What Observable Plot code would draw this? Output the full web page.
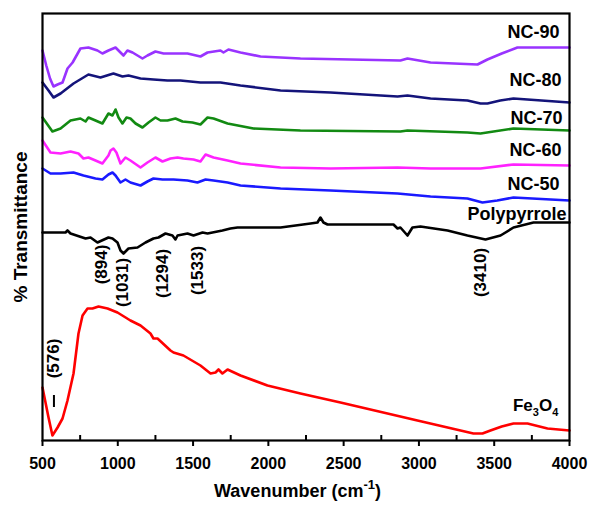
<!DOCTYPE html>
<html><head><meta charset="utf-8">
<script src="https://cdn.jsdelivr.net/npm/d3@7"></script>
<script src="https://cdn.jsdelivr.net/npm/@observablehq/plot@0.6"></script>
<style>body{margin:0;background:#fff} #chart{width:596px;height:505px}</style>
</head><body><div id="chart"></div>
<script>
// x-axis tick labels
const majorTicks = [500, 1000, 1500, 2000, 2500, 3000, 3500, 4000];
const minorTicks = [750, 1250, 1750, 2250, 2750, 3250, 3750];

// [wavenumber (cm-1), transmittance (arbitrary offset units)]
const nc90 = [[500,390],[525,375],[550,362],[573,354],[600,356],[633,358],[666,372],[700,378],[752,392],[805,393],[865,390],[898,387],[938,390],[985,393],[1018,388],[1038,385],[1064,390],[1098,388],[1164,382],[1197,385],[1250,389],[1304,387],[1370,387],[1463,387],[1549,384],[1596,388],[1682,390],[1702,388],[1735,391],[1815,388],[1948,384],[2081,383],[2213,382],[2877,380],[2924,382],[3077,378],[3389,376],[3455,381],[3550,387],[3654,393],[4000,393]];
const nc80 = [[500,358],[540,350],[573,343],[620,347],[706,357],[805,366],[885,363],[971,367],[1031,364],[1071,365],[1151,362],[1237,361],[1330,360],[1416,360],[1549,358],[1682,358],[1815,355],[2081,350],[2413,348],[2858,344],[2924,345],[3077,342],[3322,340],[3409,337],[3455,337],[3540,340],[3628,342],[4000,338]];
const nc70 = [[500,323],[566,309],[620,312],[686,320],[752,322],[786,319],[805,323],[852,320],[898,317],[938,327],[965,325],[985,331],[1005,323],[1031,317],[1058,323],[1084,322],[1118,317],[1164,313],[1204,318],[1250,323],[1284,320],[1330,320],[1383,322],[1430,319],[1496,318],[1549,316],[1596,323],[1636,322],[1729,317],[1901,312],[2213,310],[2877,309],[2924,310],[3322,308],[3409,307],[3628,312],[4000,310]];
const nc60 = [[500,300],[553,288],[620,287],[686,289],[739,287],[772,282],[805,283],[852,280],[898,277],[938,285],[952,290],[971,292],[991,288],[1018,277],[1051,283],[1084,280],[1151,273],[1197,278],[1250,283],[1297,279],[1350,282],[1397,283],[1436,282],[1503,281],[1549,279],[1583,286],[1636,283],[1729,280],[1815,277],[2081,273],[2413,272],[2858,273],[3077,272],[3409,272],[3628,276],[4000,275]];
const nc50 = [[500,272],[553,267],[620,267],[706,268],[772,265],[852,262],[898,261],[938,266],[965,268],[985,265],[1018,258],[1051,261],[1084,258],[1151,255],[1197,259],[1237,262],[1297,261],[1370,261],[1463,260],[1529,258],[1583,261],[1636,260],[1729,258],[1815,255],[2081,252],[2413,250],[2858,247],[3077,244],[3322,242],[3422,238],[3520,240],[3628,243],[4000,240]];
const ppy = [[500,208],[653,208],[666,210],[686,207],[786,202],[819,203],[865,198],[938,203],[965,202],[998,198],[1018,190],[1038,187],[1071,192],[1131,193],[1184,198],[1237,202],[1270,203],[1317,207],[1363,205],[1383,201],[1397,205],[1463,207],[1503,205],[1563,208],[1596,207],[1629,208],[1695,210],[1748,212],[1795,213],[2081,213],[2280,217],[2326,218],[2346,223],[2366,218],[2393,216],[2831,216],[2858,212],[2877,213],[2924,205],[2957,213],[3010,214],[3190,210],[3322,205],[3442,201],[3542,205],[3628,213],[3761,218],[4000,218]];
const fe3o4 = [[500,53],[540,23],[566,5],[600,13],[633,22],[666,40],[706,67],[739,107],[766,125],[799,132],[832,132],[872,134],[932,132],[998,128],[1084,120],[1151,115],[1217,107],[1237,102],[1264,102],[1350,90],[1370,88],[1436,85],[1549,75],[1616,67],[1649,68],[1669,71],[1695,67],[1729,71],[1815,65],[1994,55],[2213,47],[2479,38],[2990,20],[3362,7],[3422,7],[3475,10],[3550,14],[3628,17],[3721,17],[3854,12],[4000,10]];

const seriesNames = ["NC-90","NC-80","NC-70","NC-60","NC-50","Polypyrrole","Fe3O4"];
const seriesColors = ["#9933ff","#14147a","#128a12","#ff22ff","#1a1aff","#000000","#ff0000"];
const seriesData = [nc90, nc80, nc70, nc60, nc50, ppy, fe3o4];
const labelLevels = [408, 360, 322, 290, 256, 226]; // label heights for NC-90 .. Polypyrrole
const labelShift = [-10, -8, -7, -8, -10, -3];

// peak annotations: wavenumber, label, label level
const peakWn = [576, 894, 1031, 1294, 1533, 3410];
const peakText = ["(576)", "(894)", "(1031)", "(1294)", "(1533)", "(3410)"];
const peakLevel = [82, 176, 158, 167, 170, 168];

const rows = seriesData.flatMap((pts, i) => pts.map(([wn, t]) => ({series: seriesNames[i], wn, t})));
const labels = labelLevels.map((t, i) => ({series: seriesNames[i], t, dx: labelShift[i]}));
const peaks = peakWn.map((wn, i) => ({wn, text: peakText[i], t: peakLevel[i]}));

const FONT = "'Liberation Sans', Arial, sans-serif";

const plot = Plot.plot({
  width: 596, height: 505,
  marginLeft: 42, marginRight: 27, marginTop: 13, marginBottom: 65,
  style: {fontFamily: FONT, fontWeight: "bold", fontSize: "16px", color: "#000", background: "#fff"},
  x: {domain: [500, 4000]},
  y: {domain: [0, 427], axis: null},
  color: {domain: seriesNames, range: seriesColors},
  marks: [
    Plot.line(rows, {x: "wn", y: "t", z: "series", stroke: "series", strokeWidth: 2.6, strokeLinejoin: "round"}),
    Plot.ruleX([576], {y1: 33, y2: 45, stroke: "#000", strokeWidth: 2}),
    Plot.text(peaks, {x: "wn", y: "t", text: "text", rotate: -90, fontSize: 17, fontWeight: "bold", fill: "#000"}),
    ...labels.map(l => Plot.text([l], {x: 4000, y: "t", text: "series", textAnchor: "end", dx: l.dx, fontSize: 18, fontWeight: "bold", fill: "#000"})),
    Plot.ruleX(minorTicks, {stroke: "#000", strokeWidth: 2, insetTop: 422}),
    Plot.axisX({ticks: majorTicks, tickSize: 6, tickPadding: 11, tickFormat: d => String(d), label: null, strokeWidth: 2, fontSize: 16, fontWeight: "bold"}),
    Plot.frame({stroke: "#000", strokeWidth: 2.2}),
    Plot.text(["% Transmittance"], {frameAnchor: "left", textAnchor: "middle", rotate: -90, dx: -22, fontSize: 19, fontWeight: "bold", fill: "#000"})
  ]
});

const sx = plot.scale("x"), sy = plot.scale("y");
const fx = sx.apply ? sx.apply : d3.scaleLinear(sx.domain, sx.range);
const fy = sy.apply ? sy.apply : d3.scaleLinear(sy.domain, sy.range);
const svg = d3.select(plot);

// x-axis title with superscript
const xt = svg.append("text")
  .attr("x", (fx(500) + fx(4000)) / 2 - 8).attr("y", 497)
  .attr("text-anchor", "middle")
  .style("font-family", FONT).style("font-weight", "bold").style("font-size", "18px");
xt.append("tspan").text("Wavenumber (cm");
xt.append("tspan").attr("dy", -8).style("font-size", "13px").text("-1");
xt.append("tspan").attr("dy", 8).text(")");

// Fe3O4 label with subscripts
const fe = svg.append("text")
  .attr("x", fx(3628)).attr("y", fy(29))
  .attr("text-anchor", "start")
  .style("font-family", FONT).style("font-weight", "bold").style("font-size", "17px");
fe.append("tspan").text("Fe");
fe.append("tspan").attr("dy", 5).style("font-size", "11px").text("3");
fe.append("tspan").attr("dy", -5).text("O");
fe.append("tspan").attr("dy", 5).style("font-size", "11px").text("4");

document.getElementById("chart").appendChild(plot);
</script>
</body></html>
